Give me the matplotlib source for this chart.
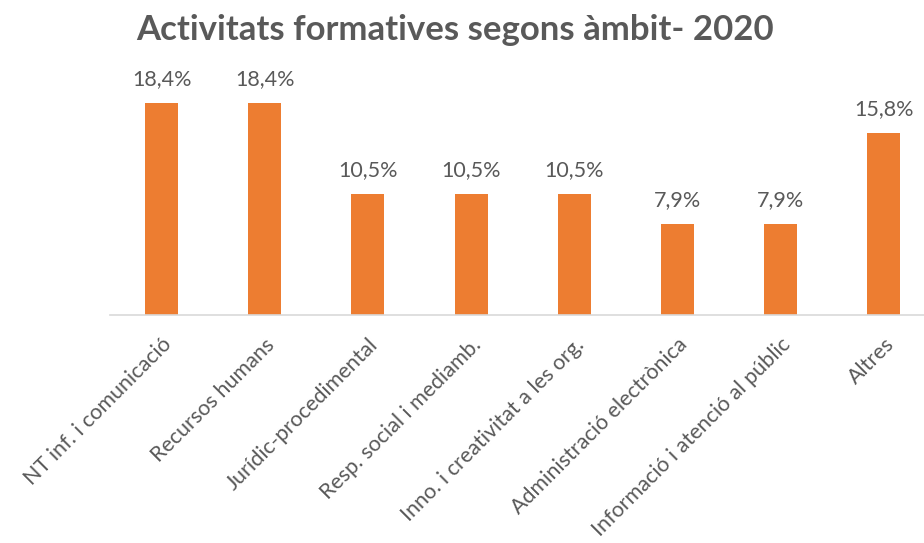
import matplotlib
matplotlib.use("Agg")
import matplotlib.pyplot as plt

# Dades (percentatges per àmbit)
ambits = [
    "NT inf. i comunicació",
    "Recursos humans",
    "Jurídic-procedimental",
    "Resp. social i mediamb.",
    "Inno. i creativitat a les org.",
    "Administració electrònica",
    "Informació i atenció al públic",
    "Altres",
]
percentatges = [18.4, 18.4, 10.5, 10.5, 10.5, 7.9, 7.9, 15.8]
etiquetes = ["18,4%", "18,4%", "10,5%", "10,5%", "10,5%", "7,9%", "7,9%", "15,8%"]

TEXT_GRIS = "#595959"
TARONJA = "#ED7D31"
plt.rcParams["font.family"] = ["Lato", "DejaVu Sans"]

fig = plt.figure(figsize=(9.24, 5.43), dpi=100)
ax = fig.add_axes([110 / 924, (543 - 315) / 543, (924 - 110) / 924, 230 / 543])

x = list(range(len(ambits)))
ax.bar(x, percentatges, width=0.32, color=TARONJA, zorder=2)

for xi, v, t in zip(x, percentatges, etiquetes):
    ax.text(xi, v + 1.25, t, ha="center", va="bottom", fontsize=15.5,
            color=TEXT_GRIS)

ax.set_xlim(-0.5, 7.39)
ax.set_ylim(0, 230 / 11.5)
ax.set_xticks(x)
ax.set_xticklabels(ambits, rotation=45, ha="right", rotation_mode="anchor",
                   fontsize=15.5, color=TEXT_GRIS)
ax.tick_params(axis="x", length=0, pad=14)
ax.set_yticks([])
for s in ["top", "right", "left"]:
    ax.spines[s].set_visible(False)
ax.spines["bottom"].set_color("#D9D9D9")
ax.spines["bottom"].set_linewidth(1.2)

fig.text(455 / 924, 1 - 30 / 543, "Activitats formatives segons àmbit- 2020",
         ha="center", va="center", fontsize=25, fontweight="bold",
         color=TEXT_GRIS)

fig.savefig("out.png", dpi=100, facecolor="white")
